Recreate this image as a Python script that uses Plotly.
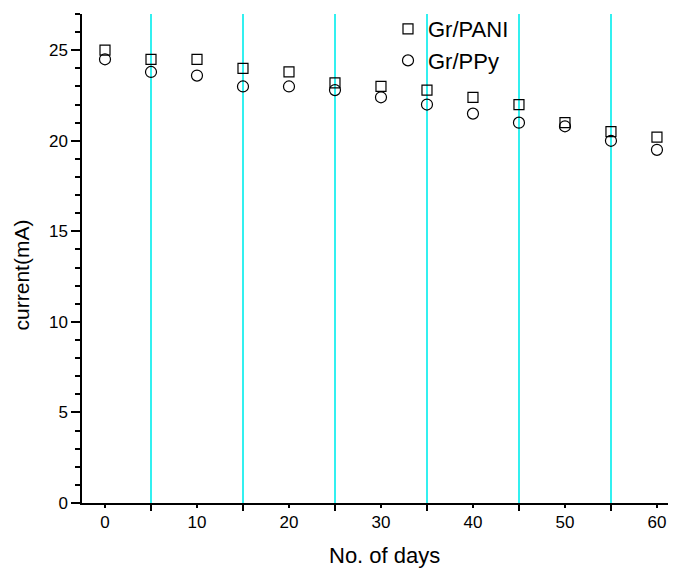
import plotly.graph_objects as go

days = [0, 5, 10, 15, 20, 25, 30, 35, 40, 45, 50, 55, 60]
pani = [25.0, 24.5, 24.5, 24.0, 23.8, 23.2, 23.0, 22.8, 22.4, 22.0, 21.0, 20.5, 20.2]
ppy = [24.5, 23.8, 23.6, 23.0, 23.0, 22.8, 22.4, 22.0, 21.5, 21.0, 20.8, 20.0, 19.5]
x_ticks = [0, 10, 20, 30, 40, 50, 60]
x_grid = [5, 15, 25, 35, 45, 55]

FONT = "Liberation Sans, Arial, sans-serif"
PW = 586  # plot width in px
PH = 490  # plot height in px

fig = go.Figure()
fig.add_trace(go.Scatter(x=days, y=pani, mode="markers", name="Gr/PANI",
                         marker=dict(symbol="square-open", size=10, color="black",
                                     line=dict(width=1.2, color="black"))))
fig.add_trace(go.Scatter(x=days, y=ppy, mode="markers", name="Gr/PPy",
                         marker=dict(symbol="circle-open", size=11, color="black",
                                     line=dict(width=1.2, color="black"))))

fig.update_layout(
    width=660, height=561,
    margin=dict(l=74, r=0, t=5, b=66),
    plot_bgcolor="white", paper_bgcolor="white",
    font=dict(family=FONT, color="black"),
    showlegend=True,
    legend=dict(x=(388 - 82) / PW, y=1.0 + 6 / PH, xanchor="left", yanchor="top",
                font=dict(size=22, family=FONT), bgcolor="rgba(0,0,0,0)",
                tracegroupgap=0, itemsizing="trace"),
    xaxis=dict(range=[-2.5, 61.2], tickmode="array", tickvals=x_ticks,
               ticks="outside", ticklen=3, tickwidth=1.5, tickcolor="black",
               showline=True, linecolor="black", linewidth=1.5,
               showgrid=False, zeroline=False, ticklabeloverflow="allow",
               tickfont=dict(size=17, family=FONT),
               minor=dict(tickmode="array", tickvals=x_grid, ticks="outside",
                          ticklen=6, tickwidth=1.5, tickcolor="black",
                          showgrid=True, gridcolor="#33f0f0", gridwidth=1.5)),
    yaxis=dict(range=[0, 27], tickmode="array", tickvals=[0, 5, 10, 15, 20, 25],
               ticks="outside", ticklen=9, tickwidth=1.5, tickcolor="black",
               showline=True, linecolor="black", linewidth=1.5,
               showgrid=False, zeroline=False,
               tickfont=dict(size=17, family=FONT),
               minor=dict(dtick=1, tick0=0, ticks="outside", ticklen=5,
                          tickwidth=1.5, tickcolor="black", showgrid=False)),
    annotations=[
        dict(text="No. of days", xref="paper", yref="paper", x=(384 - 82) / PW,
             y=-(556 - 503) / PH, xanchor="center", yanchor="middle",
             showarrow=False, font=dict(size=22, family=FONT)),
        dict(text="current(mA)", xref="paper", yref="paper", x=-(82 - 21) / PW,
             y=(503 - 275) / PH, xanchor="center", yanchor="middle", textangle=-90,
             showarrow=False, font=dict(size=21, family=FONT)),
    ],
)

fig.write_html("out.html")
